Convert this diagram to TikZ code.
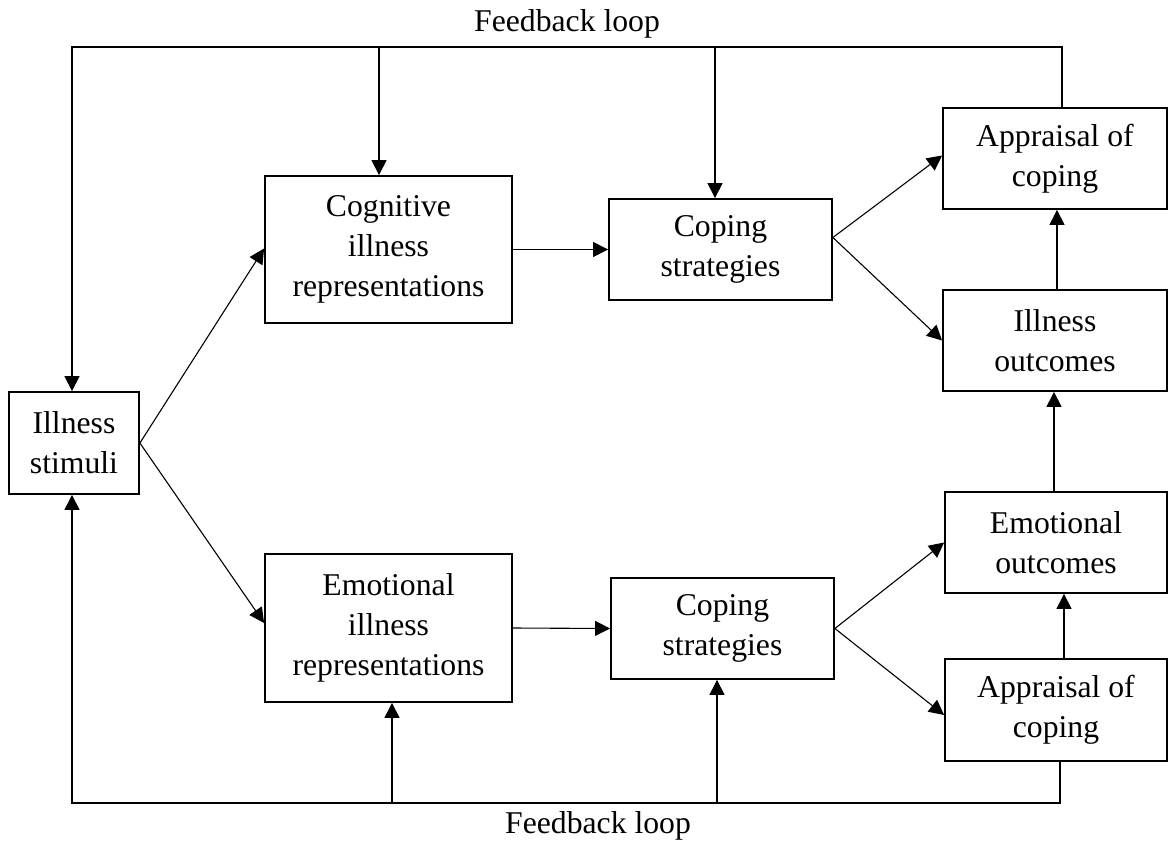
\documentclass[tikz,border=0pt]{standalone}
\usepackage{fontspec}
\setmainfont{Liberation Serif}
\usetikzlibrary{arrows.meta,calc}
\begin{document}
\begin{tikzpicture}[x=1pt,y=-1pt,
  box/.style={draw, line width=1.8pt, inner sep=0pt, align=center,
    font=\fontsize{31.7}{40}\selectfont},
  lbl/.style={inner sep=0pt, font=\fontsize{31.7}{40}\selectfont},
  conn/.style={line width=1.1pt},
  arr/.style={conn, -{Triangle[length=15pt,width=15pt]}}]
\useasboundingbox (0,0) rectangle (1168,841);
% boxes
\node[box, minimum width=130, minimum height=102] (stim) at (74,443) {Illness\\stimuli};
\node[box, minimum width=247, minimum height=147] (cog) at (388.5,249.5) {Cognitive\\illness\\representations};
\node[box, minimum width=247, minimum height=148] (emo) at (388.5,628) {Emotional\\illness\\representations};
\node[box, minimum width=223, minimum height=101] (cop1) at (720.5,249.5) {Coping\\strategies};
\node[box, minimum width=223, minimum height=101] (cop2) at (722.5,628.5) {Coping\\strategies};
\node[box, minimum width=224, minimum height=101] (app1) at (1055,158.5) {Appraisal of\\coping};
\node[box, minimum width=224, minimum height=101] (ill) at (1055,340.5) {Illness\\outcomes};
\node[box, minimum width=222, minimum height=101] (emoout) at (1056,542.5) {Emotional\\outcomes};
\node[box, minimum width=222, minimum height=102] (app2) at (1056,710) {Appraisal of\\coping};
% labels
\node[lbl] (fbtop) at (567,24) {Feedback loop};
\node[lbl] (fbbot) at (598,826) {Feedback loop};
% main connectors
\draw[arr] (stim.east) -- ([yshift=1pt]cog.west);
\draw[arr] (stim.east) -- ([yshift=5pt]emo.west);
\draw[arr] (cog.east) -- (cop1.west);
\draw[arr] (emo.east) -- (cop2.west);
\coordinate (br1) at ([yshift=12pt]cop1.east);
\draw[arr] (br1) -- ([yshift=3pt]app1.west);
\draw[arr] (br1) -- (ill.west);
\draw[arr] (cop2.east) -- (emoout.west);
\draw[arr] (cop2.east) -- ([yshift=-5pt]app2.west);
\draw[arr] ([xshift=2pt]ill.north) -- ([xshift=2pt]app1.south);
\draw[arr] ([xshift=-2pt]emoout.north) -- ([xshift=-2pt]emoout.north |- ill.south);
\draw[arr] ([xshift=8pt]app2.north) -- ([xshift=8pt]app2.north |- emoout.south);
% top feedback loop
\coordinate (tl) at (72,47);
\coordinate (t1) at (379,47);
\coordinate (t2) at (715,47);
\draw[arr] ([xshift=7pt]app1.north) |- (tl) -- (tl |- stim.north);
\draw[arr] (t1) -- (t1 |- cog.north);
\draw[arr] (t2) -- (t2 |- cop1.north);
% bottom feedback loop
\coordinate (bl) at (72,803);
\coordinate (u1) at (392,803);
\coordinate (u2) at (717,803);
\draw[arr] ([xshift=4pt]app2.south) |- (bl) -- (bl |- stim.south);
\draw[arr] (u1) -- (u1 |- emo.south);
\draw[arr] (u2) -- (u2 |- cop2.south);
\end{tikzpicture}
\end{document}
